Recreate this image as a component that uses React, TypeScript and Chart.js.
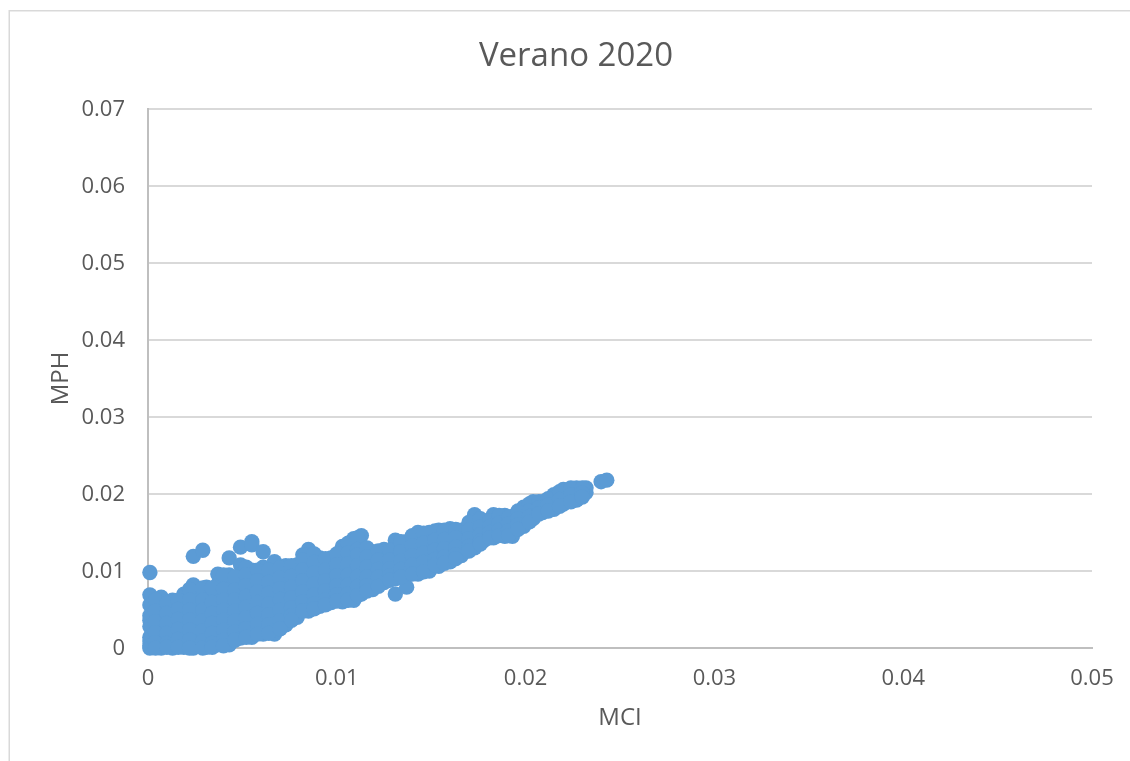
import React, { useEffect, useRef } from "react";
import { Chart, registerables } from "chart.js";

Chart.register(...registerables);

const chartTitle = "Verano 2020";
const xAxisLabel = "MCI";
const yAxisLabel = "MPH";
const seriesName = "MPH";

// MCI position of each vertical slice of the cloud, and the MPH values read in that slice.
const mciValues: number[] = [
  0.0001, 0.0007, 0.0013, 0.0019, 0.0024, 0.0031, 0.0037, 0.0043, 0.0049, 0.0055,
  0.0061, 0.0067, 0.0073, 0.0079, 0.0085, 0.0091, 0.0097, 0.0103, 0.0109, 0.0113,
  0.0119, 0.0125, 0.0131, 0.0137, 0.0143, 0.0149, 0.0154, 0.016, 0.0166, 0.0173,
  0.0178, 0.0183, 0.0189, 0.0193, 0.0199, 0.0204, 0.0209, 0.0215, 0.022, 0.0227,
  0.0232, 0.024, 0.0243,
];

const mphValues: number[][] = [
  [0.0098, 0.0069, 0.0056, 0.0042, 0.0036, 0.0028, 0.0014, 0.0009, 0.0003, 0],
  [0.0066, 0.0052, 0.0039, 0.0027, 0.0014, 0.0004, 0],
  [0.0062, 0.0049, 0.0037, 0.0024, 0.0012, 0],
  [0.007, 0.0057, 0.0044, 0.0031, 0.0018, 0.0006, 0.0001],
  [0.0119, 0.0082, 0.0069, 0.0056, 0.0042, 0.0029, 0.0015, 0.0003, 0],
  [0.0079, 0.0066, 0.0052, 0.0039, 0.0025, 0.0012, 0.0001],
  [0.0096, 0.0083, 0.007, 0.0056, 0.0043, 0.003, 0.0016, 0.0004],
  [0.0117, 0.0095, 0.0082, 0.0069, 0.0055, 0.0042, 0.0028, 0.0015, 0.0004],
  [0.0131, 0.0108, 0.0095, 0.0082, 0.0068, 0.0054, 0.004, 0.0026, 0.0013],
  [0.0138, 0.0134, 0.0101, 0.0088, 0.0074, 0.006, 0.0046, 0.0032, 0.0019, 0.0014],
  [0.0125, 0.0105, 0.0092, 0.0078, 0.0064, 0.005, 0.0036, 0.0024, 0.0018],
  [0.0112, 0.0098, 0.0084, 0.007, 0.0056, 0.0042, 0.0029, 0.0018],
  [0.0107, 0.0094, 0.008, 0.0066, 0.0052, 0.0041, 0.003],
  [0.0108, 0.0095, 0.0081, 0.0067, 0.0053, 0.004],
  [0.0128, 0.0121, 0.0107, 0.0093, 0.0079, 0.0065, 0.0052, 0.0048],
  [0.0117, 0.0104, 0.009, 0.0076, 0.0063, 0.0054],
  [0.0117, 0.0104, 0.0091, 0.0078, 0.0067, 0.0059],
  [0.0132, 0.0119, 0.0105, 0.0091, 0.0078, 0.0067, 0.006],
  [0.0142, 0.0128, 0.0114, 0.01, 0.0087, 0.0074, 0.0062],
  [0.0146, 0.0132, 0.0118, 0.0104, 0.0091, 0.0079, 0.007],
  [0.0125, 0.0113, 0.01, 0.0088, 0.0076],
  [0.0128, 0.0115, 0.0102, 0.0093, 0.0085],
  [0.014, 0.0126, 0.0112, 0.01, 0.009, 0.007],
  [0.0138, 0.0125, 0.0112, 0.0103, 0.0094, 0.0079],
  [0.015, 0.0137, 0.0124, 0.0111, 0.0096],
  [0.015, 0.0137, 0.0124, 0.0112, 0.01],
  [0.0153, 0.014, 0.0127, 0.0115, 0.0106],
  [0.0155, 0.0142, 0.013, 0.0112],
  [0.0153, 0.0142, 0.0131, 0.012],
  [0.0173, 0.016, 0.0148, 0.0138, 0.013],
  [0.0165, 0.0153, 0.0145, 0.014],
  [0.0173, 0.016, 0.015, 0.0143],
  [0.0172, 0.016, 0.0152, 0.0145],
  [0.0171, 0.0162, 0.0153, 0.0145],
  [0.0183, 0.0172, 0.0164, 0.0158],
  [0.019, 0.018, 0.0174, 0.0168],
  [0.019, 0.0183, 0.0176],
  [0.0199, 0.0189, 0.018],
  [0.0206, 0.0196, 0.0187],
  [0.0208, 0.02, 0.0192],
  [0.0208, 0.0202],
  [0.0216],
  [0.0218],
];

// Slices lying between the ones above.
const mciBetween: number[] = [
  0.0004, 0.001, 0.0016, 0.0022, 0.0029, 0.0034, 0.004, 0.0046, 0.0052, 0.0058,
  0.0064, 0.007, 0.0076, 0.0082, 0.0088, 0.0094, 0.01, 0.0106, 0.0111, 0.0116,
  0.0122, 0.0128, 0.0134, 0.014, 0.0146, 0.0152, 0.0157, 0.0163, 0.017, 0.0176,
  0.0181, 0.0186, 0.0191, 0.0196, 0.0202, 0.0207, 0.0212, 0.0218, 0.0224, 0.023,
];

const mphBetween: number[][] = [
  [0.0062, 0.0048, 0.0034, 0.002, 0.0007, 0],
  [0.0058, 0.0045, 0.0032, 0.0019, 0.0006, 0.0001],
  [0.0062, 0.005, 0.0037, 0.0024, 0.0011, 0.0001],
  [0.0076, 0.0062, 0.0049, 0.0036, 0.0023, 0.001, 0],
  [0.0127, 0.0078, 0.0062, 0.0049, 0.0035, 0.0022, 0.0009, 0],
  [0.0078, 0.0059, 0.0045, 0.0032, 0.0019, 0.0006, 0.0001],
  [0.0095, 0.0076, 0.0062, 0.0049, 0.0036, 0.0023, 0.001, 0.0003],
  [0.0092, 0.0075, 0.0062, 0.0048, 0.0035, 0.0021, 0.001],
  [0.0105, 0.0095, 0.0081, 0.0067, 0.0053, 0.0039, 0.0025, 0.0014],
  [0.0101, 0.0087, 0.0073, 0.0059, 0.0045, 0.0031, 0.0018],
  [0.0101, 0.0085, 0.0071, 0.0057, 0.0043, 0.003, 0.0019],
  [0.0104, 0.0091, 0.0077, 0.0063, 0.0049, 0.0035, 0.0025],
  [0.0107, 0.0093, 0.0079, 0.0065, 0.0052, 0.0042, 0.0036],
  [0.0121, 0.0114, 0.0101, 0.0087, 0.0073, 0.006, 0.0048],
  [0.0122, 0.0111, 0.0097, 0.0083, 0.0069, 0.0057, 0.0051],
  [0.0116, 0.0101, 0.0087, 0.0074, 0.0062, 0.0056],
  [0.0122, 0.0108, 0.0094, 0.0081, 0.0069, 0.0061],
  [0.0136, 0.0123, 0.0109, 0.0095, 0.0082, 0.007, 0.0062],
  [0.0143, 0.0128, 0.0121, 0.0107, 0.0093, 0.008, 0.0068],
  [0.013, 0.0118, 0.0105, 0.0092, 0.0081, 0.0074],
  [0.0126, 0.0114, 0.0102, 0.0092, 0.008],
  [0.0127, 0.0114, 0.0103, 0.0094, 0.0088],
  [0.0138, 0.0125, 0.0113, 0.0102, 0.0092],
  [0.0146, 0.0133, 0.012, 0.0108, 0.0096],
  [0.0149, 0.0136, 0.0123, 0.0111, 0.0099],
  [0.0152, 0.014, 0.0127, 0.0115, 0.0108],
  [0.0153, 0.0141, 0.0129, 0.0118, 0.011],
  [0.0154, 0.0143, 0.0131, 0.0121, 0.0116],
  [0.0163, 0.0153, 0.0142, 0.0132, 0.0126],
  [0.0168, 0.0157, 0.0147, 0.0139, 0.0135],
  [0.0165, 0.0158, 0.015, 0.0143],
  [0.0172, 0.0162, 0.0153, 0.0146],
  [0.017, 0.0161, 0.0152, 0.0146],
  [0.0178, 0.0168, 0.016, 0.0154],
  [0.0187, 0.0178, 0.0171, 0.0164],
  [0.019, 0.0182, 0.0174],
  [0.0194, 0.0186, 0.0178],
  [0.0203, 0.0193, 0.0184],
  [0.0208, 0.0199, 0.019],
  [0.0208, 0.0201, 0.0196],
];

const xTickMax = 0.05;
const yTickMax = 0.07;
const tickStep = 0.01;

const points = [
  ...mciValues.flatMap((x, i) => mphValues[i].map((y) => ({ x, y }))),
  ...mciBetween.flatMap((x, i) => mphBetween[i].map((y) => ({ x, y }))),
];

const FONT = '"Open Sans", sans-serif';
const TEXT = "#595959";

const frame = {
  id: "frame",
  beforeDraw(chart: Chart) {
    const { ctx, width, height } = chart;
    ctx.save();
    ctx.fillStyle = "#ffffff";
    ctx.fillRect(0, 0, width, height);
    ctx.strokeStyle = "#D9D9D9";
    ctx.lineWidth = 1.5;
    ctx.beginPath();
    ctx.moveTo(9.25, height);
    ctx.lineTo(9.25, 10.75);
    ctx.lineTo(width, 10.75);
    ctx.stroke();
    ctx.restore();
  },
};

const fmt = (v: string | number) => String(+Number(v).toFixed(2));

export default function App() {
  const ref = useRef<HTMLCanvasElement>(null);
  useEffect(() => {
    if (!ref.current) return;
    const chart = new Chart(ref.current, {
      type: "scatter",
      data: {
        datasets: [
          {
            label: seriesName,
            data: points,
            backgroundColor: "#5B9BD5",
            borderColor: "#5B9BD5",
            borderWidth: 0,
            pointRadius: 7.7,
            clip: false,
          },
        ],
      },
      plugins: [frame],
      options: {
        responsive: false,
        animation: false,
        events: [],
        layout: { padding: { left: 60, right: 38, top: 0, bottom: 0 } },
        plugins: {
          legend: { display: false },
          tooltip: { enabled: false },
          title: {
            display: true,
            text: chartTitle,
            color: TEXT,
            font: { family: FONT, size: 33, weight: "normal" },
            padding: { top: 37, bottom: 32.4 },
          },
        },
        scales: {
          x: {
            type: "linear",
            min: 0,
            max: xTickMax,
            afterFit: (s: any) => {
              s.height = 113;
              s.paddingLeft = 0;
              s.paddingRight = 0;
            },
            grid: { display: false, drawTicks: false },
            border: { color: "#BFBFBF", width: 2 },
            ticks: {
              stepSize: tickStep,
              color: TEXT,
              font: { family: FONT, size: 22 },
              padding: 18,
              maxRotation: 0,
              autoSkip: false,
              callback: fmt,
            },
            title: {
              display: true,
              text: xAxisLabel,
              color: TEXT,
              font: { family: FONT, size: 24 },
              padding: { top: 0, bottom: 28 },
            },
          },
          y: {
            type: "linear",
            min: 0,
            max: yTickMax,
            afterFit: (s: any) => {
              s.width = 88;
              s.paddingTop = 0;
              s.paddingBottom = 0;
            },
            grid: { color: "#D9D9D9", lineWidth: 2, drawTicks: false },
            border: { color: "#BFBFBF", width: 2 },
            ticks: {
              stepSize: tickStep,
              color: TEXT,
              font: { family: FONT, size: 22 },
              padding: 23,
              labelOffset: 1,
              autoSkip: false,
              callback: fmt,
            },
            title: {
              display: true,
              text: yAxisLabel,
              color: TEXT,
              font: { family: FONT, size: 24 },
              padding: { top: -13.4, bottom: 0 },
            },
          },
        },
      },
    } as any);
    return () => chart.destroy();
  }, []);
  return (
    <div style={{ position: "fixed", left: 0, top: 0, width: 1130, height: 761, overflow: "hidden", background: "#fff" }}>
      <canvas ref={ref} width={1130} height={761} style={{ display: "block" }} />
    </div>
  );
}
